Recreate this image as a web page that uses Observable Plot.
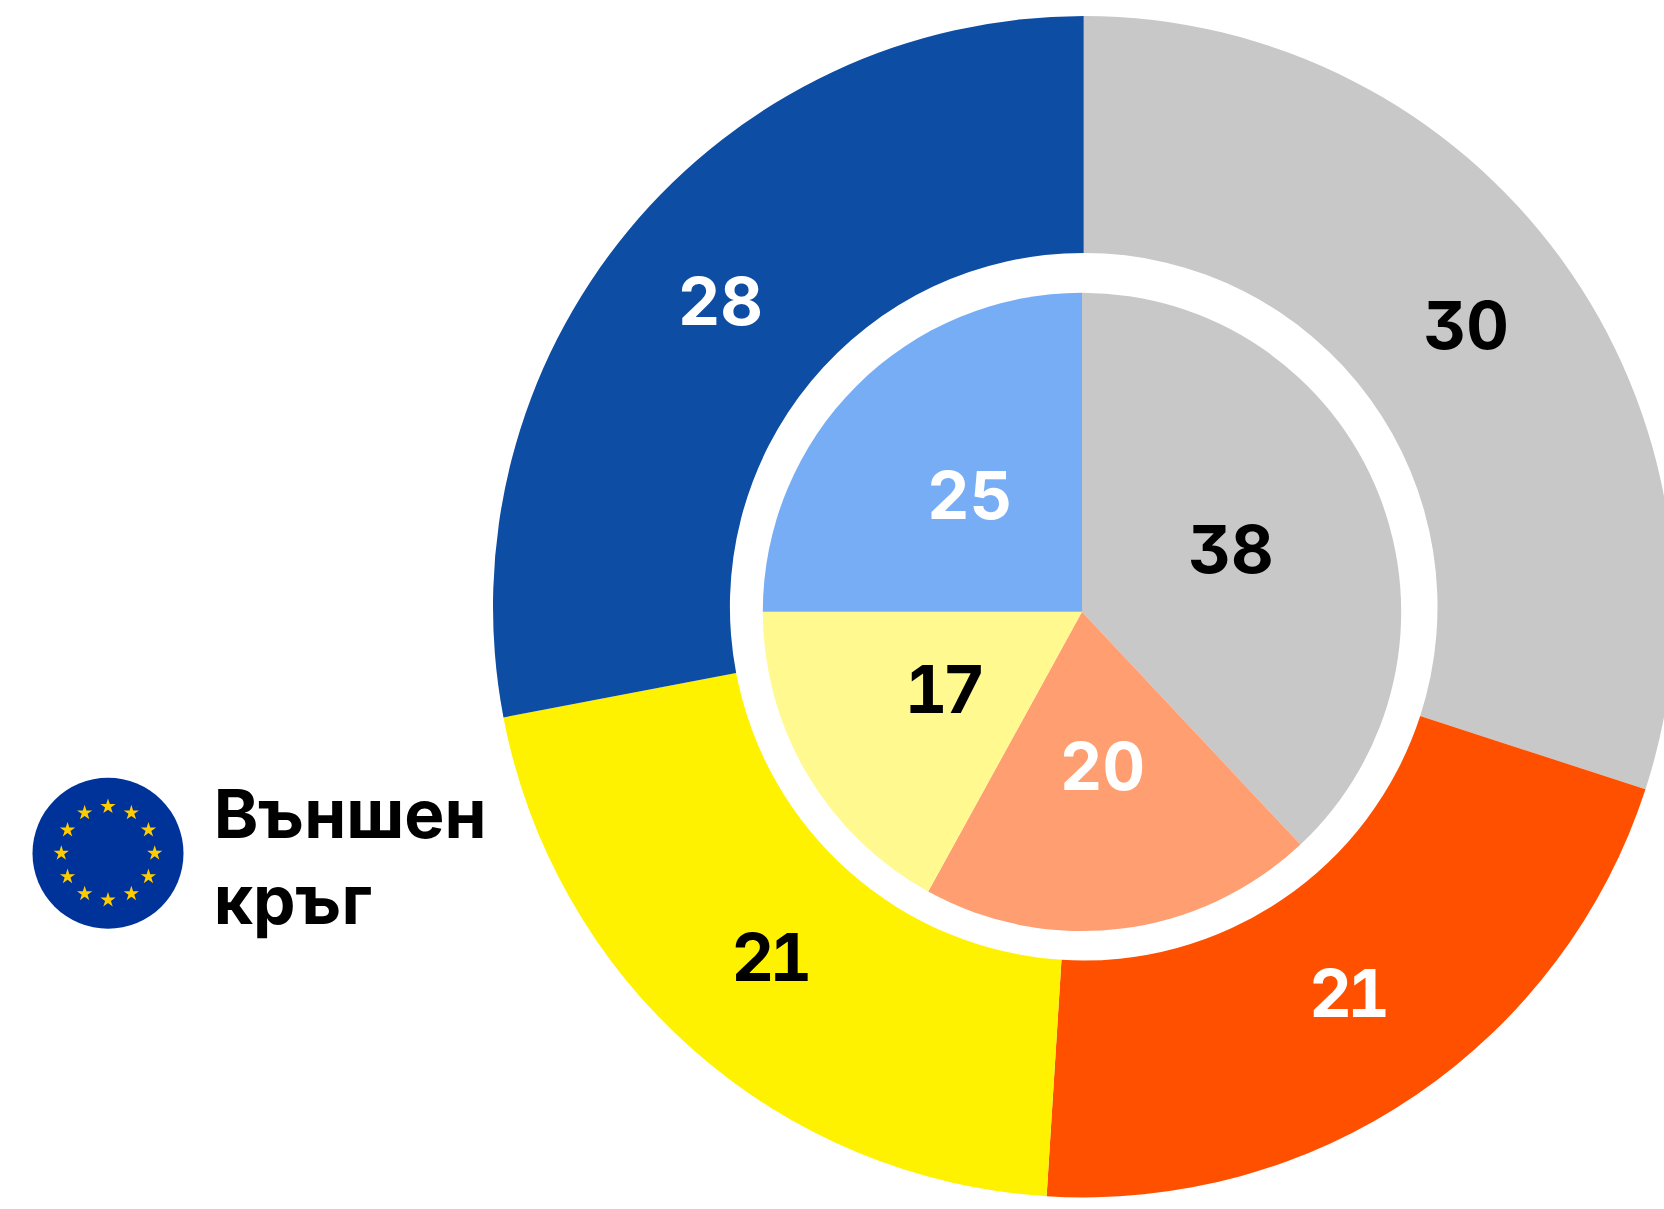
<!DOCTYPE html>
<html lang="bg">
<head>
<meta charset="utf-8">
<title>Външен кръг</title>
<script src="https://cdn.jsdelivr.net/npm/d3@7"></script>
<script src="https://cdn.jsdelivr.net/npm/@observablehq/plot@0.6"></script>
<style>
  html, body { margin: 0; padding: 0; background: #fff; overflow: hidden; }
  svg { display: block; }
  svg text { font-feature-settings: "cv09", "tnum"; }
  svg .tight text, svg text.tight { letter-spacing: -4.6px; }
</style>
</head>
<body>
<div id="chart"></div>
<script>
// Data
const outerValues = [30, 21, 21, 28];
const outerColors = ["#c8c8c8", "#ff5000", "#fff200", "#0e4da4"];
const outerTextColors = ["#000", "#fff", "#000", "#fff"];

const innerValues = [38, 20, 17, 25];
const innerColors = ["#c8c8c8", "#ff9e70", "#fff98f", "#76adf5"];
const innerTextColors = ["#000", "#fff", "#000", "#fff"];

const legendLines = ["Външен", "кръг"];
const starHours = [0, 1, 2, 3, 4, 5, 6, 7, 8, 9, 10, 11];

// Layout (in the px-identical x/y scale domain)
const W = 1664, H = 1209;
const outer = {cx: 1083.7, cy: 606.7, r0: 353.8, r1: 590.7};
const inner = {cx: 1082, cy: 611.85, r0: 0, r1: 319.2};
const flag = {cx: 107.5, cy: 852.8, r: 75.5, ring: 46.7};
const FONT = "Inter, sans-serif";

function slices(values, colors, textColors, geom) {
  const pie = d3.pie().sort(null)(values);
  const arc = d3.arc().innerRadius(geom.r0).outerRadius(geom.r1);
  return pie.map((p, i) => {
    const [dx, dy] = arc.centroid(p);
    return {
      value: values[i], fill: colors[i], text: textColors[i],
      start: p.startAngle, end: p.endAngle,
      x: geom.cx + dx, y: geom.cy + dy, geom
    };
  });
}
const outerSlices = slices(outerValues, outerColors, outerTextColors, outer);
const innerSlices = slices(innerValues, innerColors, innerTextColors, inner);

// Slice mark: d3.arc shapes positioned through Plot's x and y scales
function sliceMark(data) {
  return (index, scales) => {
    const g = d3.create("svg:g").attr("aria-label", "slice");
    for (const d of data) {
      const {cx, cy, r0, r1} = d.geom;
      const sx = scales.x(cx), sy = scales.y(cy);
      const k = scales.x(cx + 1) - sx;
      g.append("path")
        .attr("transform", `translate(${sx},${sy})`)
        .attr("fill", d.fill)
        .attr("d", d3.arc()({innerRadius: r0 * k, outerRadius: r1 * k, startAngle: d.start, endAngle: d.end}));
    }
    return g.node();
  };
}

const stars = starHours.map(h => ({
  x: flag.cx + flag.ring * Math.sin(h * Math.PI / 6),
  y: flag.cy - flag.ring * Math.cos(h * Math.PI / 6)
}));

const allSlices = [...outerSlices, ...innerSlices];
const hasOne = d => String(d.value).includes("1");
const valueText = {
  x: "x", y: "y", text: d => String(d.value), fill: "text",
  lineAnchor: "middle", textAnchor: "middle",
  fontFamily: FONT, fontWeight: 700, fontSize: 66
};

const chart = Plot.plot({
  width: W, height: H, margin: 0,
  style: {background: "#fff", overflow: "hidden"},
  x: {domain: [0, W], range: [0, W], axis: null},
  y: {domain: [0, H], range: [0, H], axis: null},
  marks: [
    // Establish the scales for the function marks
    Plot.dot([{x: 0, y: 0}, {x: W, y: H}], {x: "x", y: "y", r: 0, stroke: "none"}),
    sliceMark(outerSlices),
    sliceMark(innerSlices),
    Plot.text(allSlices.filter(d => !hasOne(d)), {...valueText, dy: -2}),
    Plot.text(allSlices.filter(hasOne), {...valueText, dy: -2, dx: -2.3, render: (index, scales, values, dimensions, context, next) => {
      const node = next(index, scales, values, dimensions, context);
      d3.select(node).selectAll("text").classed("tight", true);
      return node;
    }}),
    Plot.dot([flag], {x: "cx", y: "cy", r: flag.r, fill: "#003399", stroke: "none"}),
    Plot.dot(stars, {x: "x", y: "y", r: 4.8, symbol: "star", fill: "#ffcc00", stroke: "none"}),
    Plot.text(legendLines, {
      x: () => 213.2, y: (d, i) => 837.3 + i * 86,
      text: d => d, fill: "#000", textAnchor: "start", lineAnchor: "bottom",
      fontFamily: FONT, fontWeight: 700, fontSize: 67.5
    })
  ]
});
document.getElementById("chart").appendChild(chart);
</script>
</body>
</html>
